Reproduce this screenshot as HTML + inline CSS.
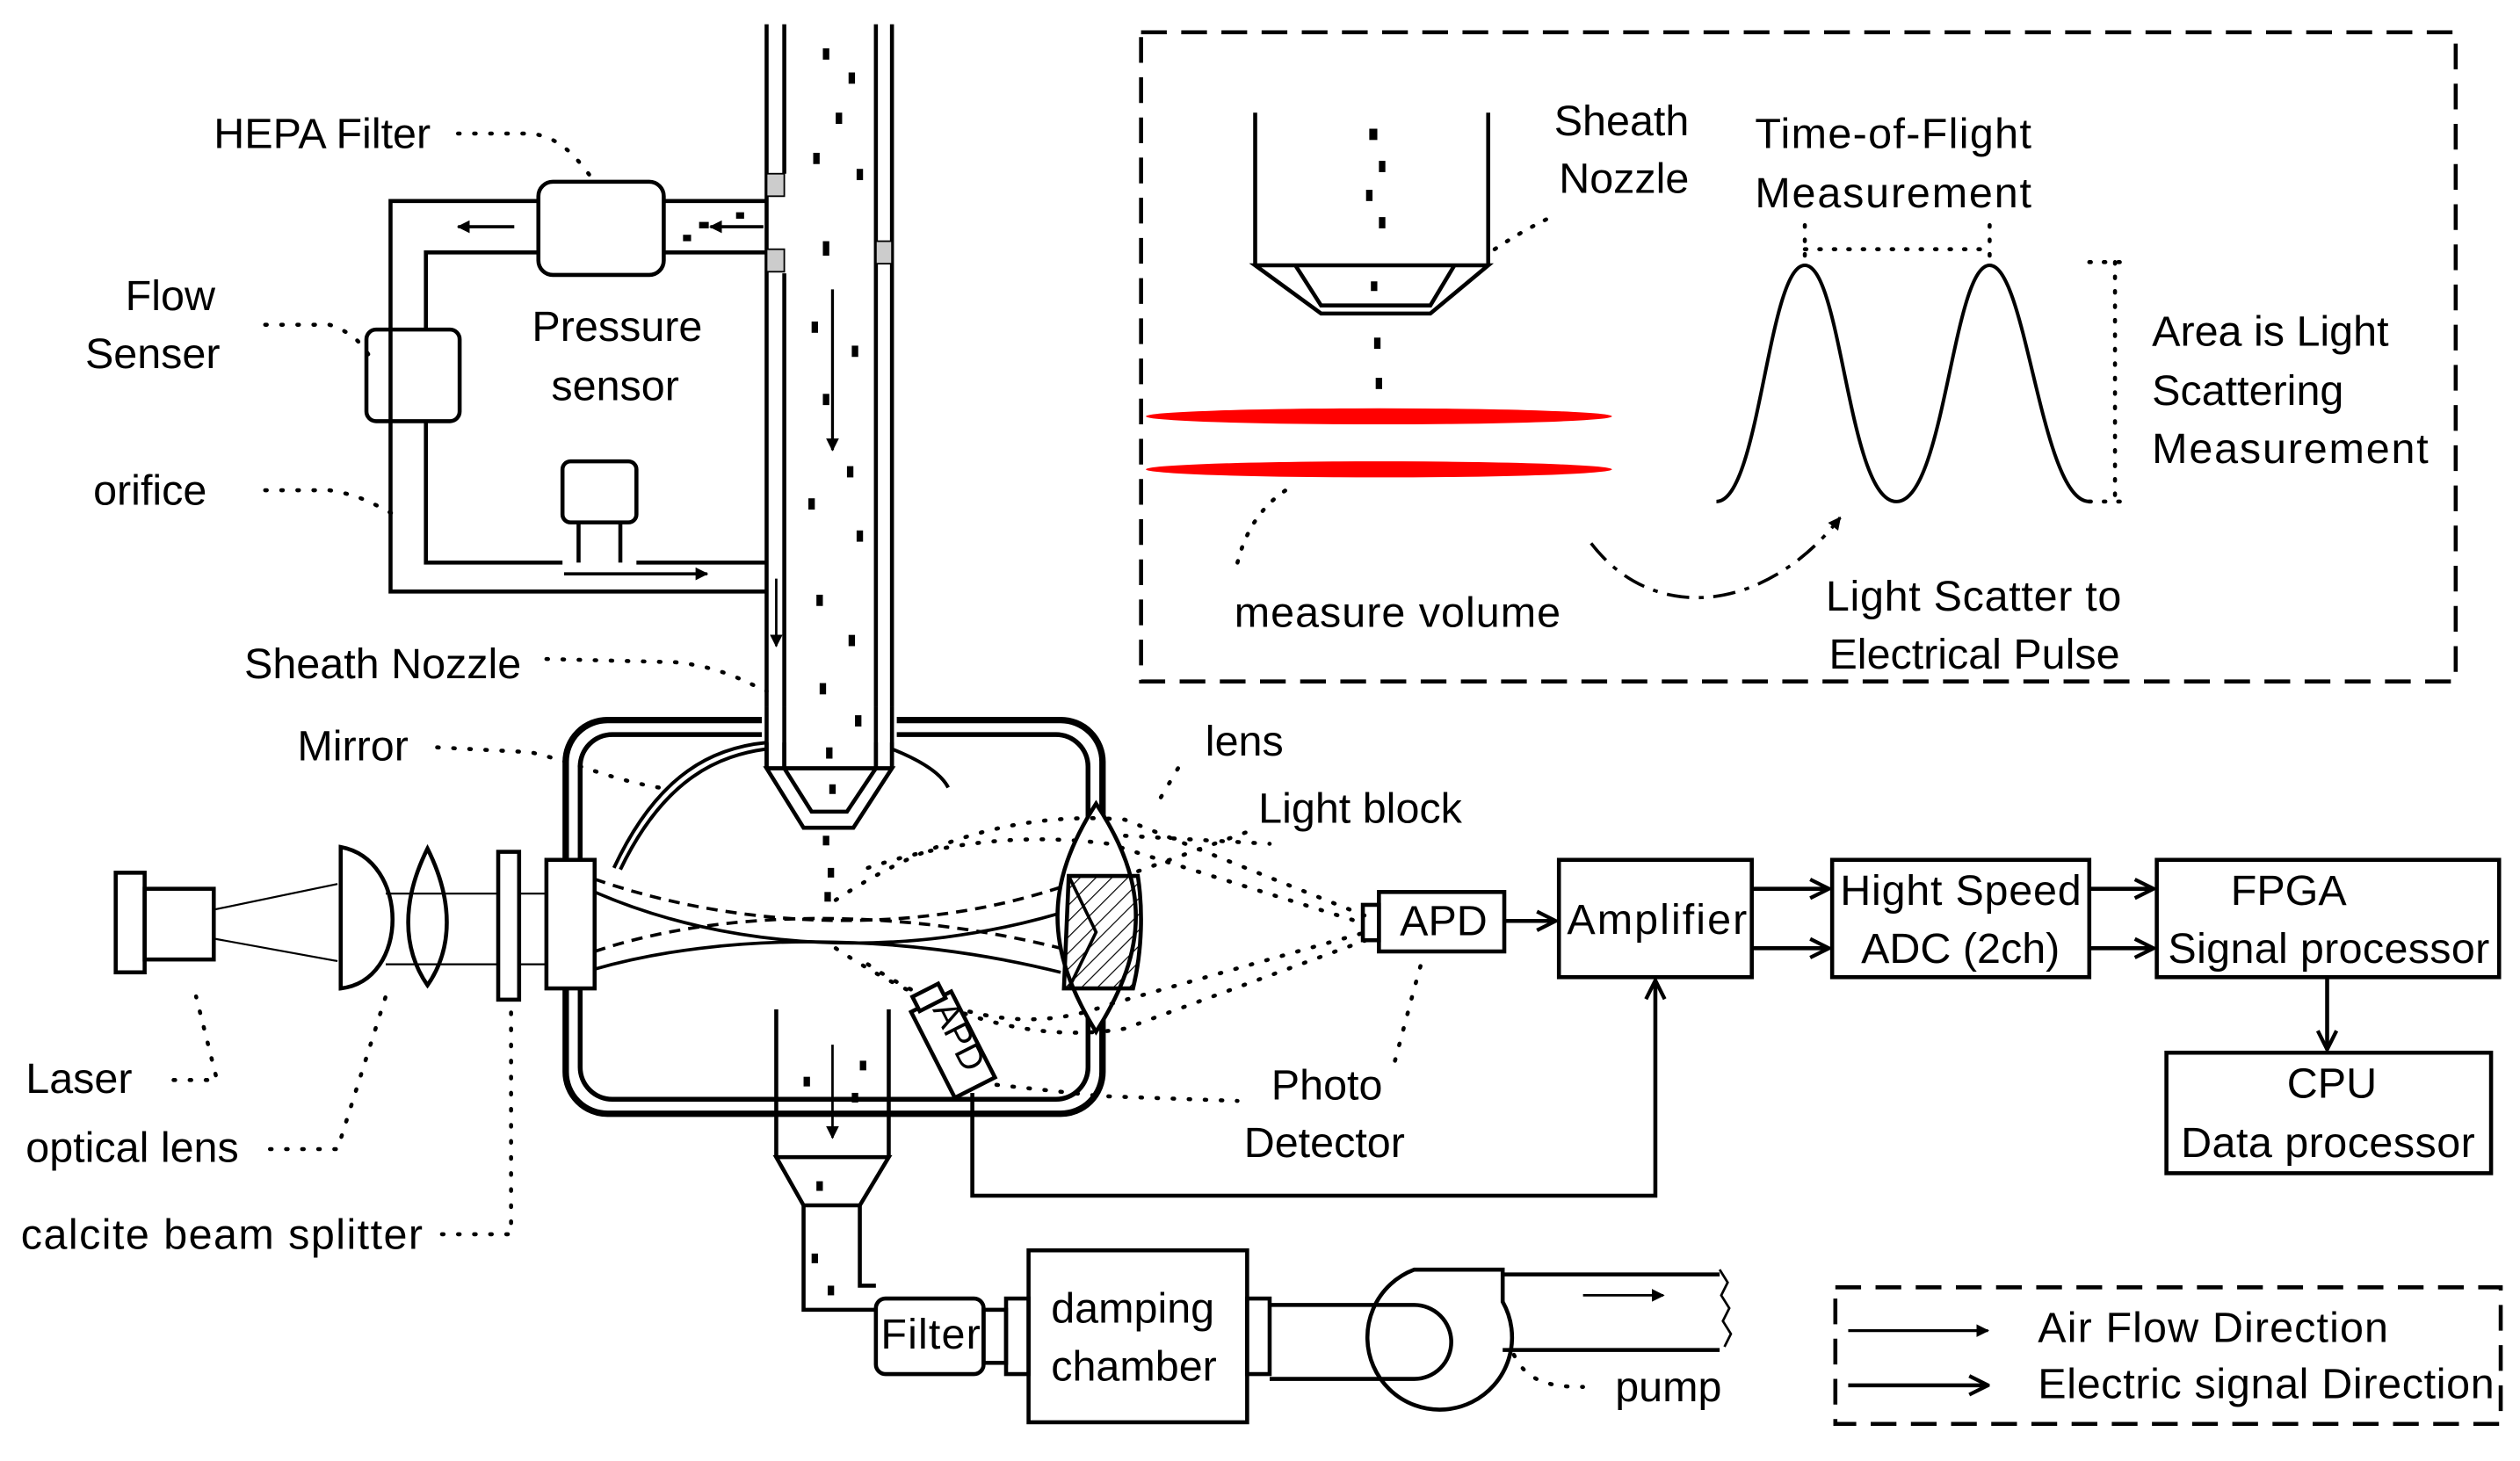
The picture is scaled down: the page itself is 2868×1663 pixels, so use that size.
<!DOCTYPE html>
<html><head><meta charset="utf-8"><style>
html,body{margin:0;padding:0;background:#fff}
svg{display:block}
text{font-family:"Liberation Sans",sans-serif;font-size:26.5px;fill:#000}
</style></head><body>
<svg width="2868" height="1663" viewBox="0 0 1568 909" xmlns="http://www.w3.org/2000/svg">
<defs>
<marker id="ah" viewBox="0 0 10 10" refX="9" refY="5" markerWidth="8" markerHeight="8" orient="auto" markerUnits="userSpaceOnUse"><path d="M0,0 L10,5 L0,10 Z"/></marker>
<marker id="ao" viewBox="0 0 12 12" refX="11" refY="6" markerWidth="14" markerHeight="14" orient="auto" markerUnits="userSpaceOnUse"><path d="M1,1 L11,6 L1,11" fill="none" stroke="#000" stroke-width="2"/></marker>
<pattern id="hatch" width="7" height="7" patternUnits="userSpaceOnUse" patternTransform="rotate(45)"><line x1="0" y1="0" x2="0" y2="7" stroke="#000" stroke-width="1.3"/></pattern>
</defs>
<g fill="none" stroke="#000" stroke-width="2.5">
<rect x="710" y="20" width="818" height="404" stroke-dasharray="16,9"/>
<rect x="1142" y="801" width="414" height="85" stroke-dasharray="16,9"/>
<line x1="477" y1="15" x2="477" y2="478"/>
<line x1="488" y1="170" x2="488" y2="478"/>
<line x1="545" y1="15" x2="545" y2="478"/>
<line x1="555" y1="15" x2="555" y2="478"/>
<line x1="488" y1="15" x2="488" y2="108"/>
<rect x="477" y="108" width="11" height="14" stroke-width="1" fill="#ccc"/>
<rect x="477" y="155" width="11" height="14" stroke-width="1" fill="#ccc"/>
<rect x="545" y="150" width="10" height="14" stroke-width="1" fill="#ccc"/>
<path d="M477,478 L500,515 L531,515 L555,478 Z"/>
<path d="M488,478 L505,505 L527,505 L545,478"/>
<line x1="477" y1="478" x2="555" y2="478"/>
<path d="M335,125 L243,125 L243,368 L477,368"/>
<path d="M335,157 L265,157 L265,205"/>
<path d="M265,262 L265,350 L350,350"/>
<path d="M396,350 L477,350"/>
<path d="M413,125 L477,125"/>
<path d="M413,157 L477,157"/>
<rect x="335" y="113" width="78" height="58" rx="9"/>
<rect x="228" y="205" width="58" height="57" rx="6"/>
<rect x="350" y="287" width="46" height="38" rx="5"/>
<line x1="360" y1="325" x2="360" y2="350"/><line x1="386" y1="325" x2="386" y2="350"/>
<line x1="320" y1="141" x2="285" y2="141" marker-end="url(#ah)" stroke-width="2"/>
<line x1="475" y1="141" x2="442" y2="141" marker-end="url(#ah)" stroke-width="2"/>
<line x1="351" y1="357" x2="440" y2="357" marker-end="url(#ah)" stroke-width="2"/>
<line x1="518" y1="180" x2="518" y2="280" marker-end="url(#ah)" stroke-width="1.8"/>
<line x1="483" y1="360" x2="483" y2="402" marker-end="url(#ah)" stroke-width="1.5"/>
<rect x="352" y="448" width="334" height="245" rx="26" stroke-width="4"/>
<rect x="361" y="457" width="316" height="227" rx="20" stroke-width="3"/>
<rect x="474" y="440" width="84" height="22" fill="#fff" stroke="none"/>
<line x1="477" y1="440" x2="477" y2="478"/><line x1="555" y1="440" x2="555" y2="478"/>
<line x1="488" y1="440" x2="488" y2="478"/><line x1="545" y1="440" x2="545" y2="478"/>
<path d="M382,540 C410,480 445,465 477,462" stroke-width="2.2"/>
<path d="M386,541 C414,483 448,470 477,466" stroke-width="2.2"/>
<path d="M555,466 C570,472 585,480 590,490" stroke-width="2.2"/>
<rect x="72" y="543" width="18" height="62"/>
<rect x="90" y="553" width="43" height="44"/>
<line x1="133" y1="566" x2="210" y2="550" stroke-width="1.2"/>
<line x1="133" y1="584" x2="210" y2="598" stroke-width="1.2"/>
<path d="M212,527 C255,535 255,610 212,615 Z"/>
<path d="M266,528 C250,560 250,590 266,613 C282,590 282,560 266,528 Z"/>
<line x1="240" y1="556" x2="310" y2="556" stroke-width="1.2"/>
<line x1="240" y1="600" x2="310" y2="600" stroke-width="1.2"/>
<rect x="310" y="530" width="13" height="92"/>
<line x1="323" y1="556" x2="340" y2="556" stroke-width="1.2"/><line x1="323" y1="600" x2="340" y2="600" stroke-width="1.2"/>
<rect x="340" y="535" width="30" height="80" fill="#fff"/>
<path d="M370,555 C450,590 560,600 670,565" stroke-width="2"/>
<path d="M370,603 C450,580 560,580 660,605" stroke-width="2"/>
<path d="M370,547 C450,575 560,585 660,552" stroke-width="2" stroke-dasharray="7,5"/>
<path d="M370,592 C450,565 560,565 660,590" stroke-width="2" stroke-dasharray="7,5"/>
<path d="M682,500 C650,550 650,590 682,642 C715,590 715,550 682,500 Z" fill="#fff"/>
<path d="M665,545 L708,545 C711,565 711,590 705,615 L662,615 Z" fill="url(#hatch)" stroke-width="2.5"/>
<path d="M665,545 L682,580 L665,615" stroke-width="2"/>
<g stroke-width="2.5" stroke-dasharray="1,9" stroke-linecap="round">
<path d="M520,560 C580,520 640,505 700,510 L850,570"/>
<path d="M540,540 C600,520 650,520 690,525 L850,575"/>
<path d="M540,600 C600,640 650,640 690,625 L850,580"/>
<path d="M520,590 C580,630 640,650 700,640 L850,585"/>
<path d="M700,520 L790,525"/>
</g>
<rect x="848" y="563" width="10" height="22"/>
<rect x="858" y="555" width="78" height="37"/>
<line x1="936" y1="573" x2="968" y2="573" marker-end="url(#ao)"/>
<rect x="970" y="535" width="120" height="73"/>
<rect x="1140" y="535" width="160" height="73"/>
<rect x="1342" y="535" width="213" height="73"/>
<rect x="1348" y="655" width="202" height="75"/>
<line x1="1090" y1="553" x2="1138" y2="553" marker-end="url(#ao)"/>
<line x1="1090" y1="590" x2="1138" y2="590" marker-end="url(#ao)"/>
<line x1="1300" y1="553" x2="1340" y2="553" marker-end="url(#ao)"/>
<line x1="1300" y1="590" x2="1340" y2="590" marker-end="url(#ao)"/>
<line x1="1448" y1="608" x2="1448" y2="653" marker-end="url(#ao)"/>
<g transform="translate(593,650) rotate(63)">
<rect x="-30" y="-14" width="60" height="28" fill="#fff"/>
<rect x="-38" y="-9" width="10" height="18" fill="#fff"/>
</g>
<path d="M605,680 L605,744 L1030,744 L1030,610" marker-end="url(#ao)"/>
<line x1="483" y1="628" x2="483" y2="720"/><line x1="553" y1="628" x2="553" y2="720"/>
<path d="M483,720 L553,720 L535,750 L500,750 Z"/>
<path d="M500,750 L500,815 L545,815"/>
<path d="M535,750 L535,800 L545,800"/>
<line x1="518" y1="650" x2="518" y2="708" marker-end="url(#ah)" stroke-width="1.5"/>
<rect x="545" y="808" width="67" height="47" rx="6"/>
<rect x="612" y="815" width="14" height="33"/>
<rect x="626" y="808" width="14" height="47"/>
<rect x="640" y="778" width="136" height="107"/>
<rect x="776" y="808" width="14" height="47"/>
<path d="M790,812 L880,812 A23,23 0 0 1 880,858 L790,858"/>
<path d="M935,793 L1070,793"/><path d="M935,840 L1070,840"/>
<path d="M935,793 L935,810 A45,45 0 1 1 880,790 L935,790 Z" fill="none"/>
<path d="M1070,790 l5,8 l-4,8 l5,8 l-4,8 l5,8 l-4,8" stroke-width="1.5"/>
<line x1="985" y1="806" x2="1035" y2="806" marker-end="url(#ah)" stroke-width="1.5"/>
<line x1="1150" y1="828" x2="1237" y2="828" marker-end="url(#ah)" stroke-width="1.8"/>
<line x1="1150" y1="862" x2="1237" y2="862" marker-end="url(#ao)"/>
<line x1="781" y1="70" x2="781" y2="165"/><line x1="926" y1="70" x2="926" y2="165"/>
<path d="M781,165 L926,165 L890,195 L822,195 Z"/>
<path d="M806,165 L822,190 L890,190 L905,165"/>
<path d="M1068,312 C1095,312 1100,165 1123,165 C1146,165 1150,312 1180,312 C1210,312 1215,165 1238,165 C1261,165 1270,312 1300,312" stroke-width="2.2"/>
<g stroke-width="2.5" stroke-dasharray="1,8" stroke-linecap="round">
<line x1="1123" y1="140" x2="1123" y2="160"/><line x1="1238" y1="140" x2="1238" y2="160"/>
<line x1="1123" y1="155" x2="1238" y2="155"/>
<line x1="1300" y1="163" x2="1325" y2="163"/><line x1="1300" y1="312" x2="1325" y2="312"/>
<line x1="1316" y1="163" x2="1316" y2="312"/>
<path d="M930,155 C945,145 955,140 965,135"/>
<path d="M770,350 C775,330 785,315 800,305"/>
</g>
<path d="M990,338 C1030,390 1100,380 1145,322" stroke-width="2" stroke-dasharray="14,6,3,6" marker-end="url(#ah)"/>
<g stroke-width="2.5" stroke-dasharray="1,9" stroke-linecap="round">
<path d="M285,83 L330,83 C350,85 360,100 370,113"/>
<path d="M165,202 L205,202 C215,205 225,212 230,222"/>
<path d="M165,305 L205,305 C225,308 235,315 245,320"/>
<path d="M340,410 L420,412 C450,415 465,425 477,430"/>
<path d="M272,465 L330,468 C360,475 380,485 410,490"/>
<path d="M733,478 L720,500"/>
<path d="M775,518 L700,545"/>
<path d="M108,672 L135,672 L122,620"/>
<path d="M168,715 L210,715 L240,620"/>
<path d="M275,768 L318,768 L318,622"/>
<path d="M620,675 L685,682 L770,685"/>
<path d="M868,660 L880,615 L885,597"/>
<path d="M942,843 C950,860 965,863 985,863"/>
</g>
</g>
<ellipse cx="858" cy="259" rx="145" ry="5" fill="#f00"/>
<ellipse cx="858" cy="292" rx="145" ry="5" fill="#f00"/>
<g fill="#000">
<rect x="512" y="30" width="4" height="7"/><rect x="528" y="45" width="4" height="7"/><rect x="520" y="70" width="4" height="7"/>
<rect x="506" y="95" width="4" height="7"/><rect x="533" y="105" width="4" height="7"/><rect x="512" y="150" width="4" height="9"/>
<rect x="505" y="200" width="4" height="7"/><rect x="530" y="215" width="4" height="7"/><rect x="512" y="245" width="4" height="7"/>
<rect x="527" y="290" width="4" height="7"/><rect x="503" y="310" width="4" height="7"/><rect x="533" y="330" width="4" height="7"/>
<rect x="508" y="370" width="4" height="7"/><rect x="528" y="395" width="4" height="7"/><rect x="510" y="425" width="4" height="7"/>
<rect x="532" y="445" width="4" height="7"/><rect x="514" y="465" width="4" height="7"/><rect x="516" y="488" width="4" height="6"/>
<rect x="512" y="520" width="4" height="6"/><rect x="515" y="540" width="4" height="6"/><rect x="513" y="555" width="4" height="6"/>
<rect x="852" y="80" width="5" height="7"/><rect x="858" y="100" width="4" height="7"/><rect x="850" y="118" width="4" height="7"/>
<rect x="858" y="135" width="4" height="7"/><rect x="853" y="175" width="4" height="6"/><rect x="855" y="210" width="4" height="7"/><rect x="856" y="235" width="4" height="7"/>
<rect x="505" y="780" width="4" height="6"/><rect x="515" y="800" width="4" height="6"/><rect x="508" y="735" width="4" height="6"/>
<rect x="535" y="660" width="4" height="6"/><rect x="530" y="680" width="4" height="6"/><rect x="500" y="670" width="4" height="6"/>
<rect x="435" y="138" width="6" height="4"/><rect x="458" y="132" width="5" height="4"/><rect x="425" y="146" width="5" height="4"/>
</g>
<text x="133" y="92">HEPA Filter</text>
<text x="78" y="193">Flow</text><text x="53" y="229">Senser</text>
<text x="331" y="212">Pressure</text><text x="343" y="249">sensor</text>
<text x="58" y="314">orifice</text>
<text x="152" y="422">Sheath Nozzle</text>
<text x="185" y="473">Mirror</text>
<text x="750" y="470">lens</text>
<text x="783" y="512">Light block</text>
<text x="871" y="582">APD</text>
<text x="975" y="581" textLength="112">Amplifier</text>
<text x="1145" y="563" textLength="150">Hight Speed</text><text x="1158" y="599">ADC (2ch)</text>
<text x="1388" y="563">FPGA</text><text x="1349" y="599" textLength="200">Signal processor</text>
<text x="1423" y="683">CPU</text><text x="1357" y="720" textLength="183">Data processor</text>
<text x="791" y="684">Photo</text><text x="774" y="720">Detector</text>
<text x="16" y="680">Laser</text>
<text x="16" y="723">optical lens</text>
<text x="13" y="777" textLength="250">calcite beam splitter</text>
<text x="548" y="839" textLength="62">Filter</text>
<text x="654" y="823">damping</text><text x="654" y="859">chamber</text>
<text x="1005" y="872">pump</text>
<text x="1268" y="835" textLength="218">Air Flow Direction</text>
<text x="1268" y="870" textLength="284">Electric signal Direction</text>
<text x="967" y="84">Sheath</text><text x="970" y="120">Nozzle</text>
<text x="1092" y="92" textLength="172">Time-of-Flight</text><text x="1092" y="129" textLength="172">Measurement</text>
<text x="1339" y="215">Area is Light</text><text x="1339" y="252">Scattering</text><text x="1339" y="288" textLength="172">Measurement</text>
<text x="768" y="390" textLength="203">measure volume</text>
<text x="1136" y="380" textLength="184">Light Scatter to</text><text x="1138" y="416" textLength="181">Electrical Pulse</text>
<text x="0" y="0" transform="translate(580,628) rotate(63)" style="font-size:22px">APD</text>
</svg>
</body></html>
